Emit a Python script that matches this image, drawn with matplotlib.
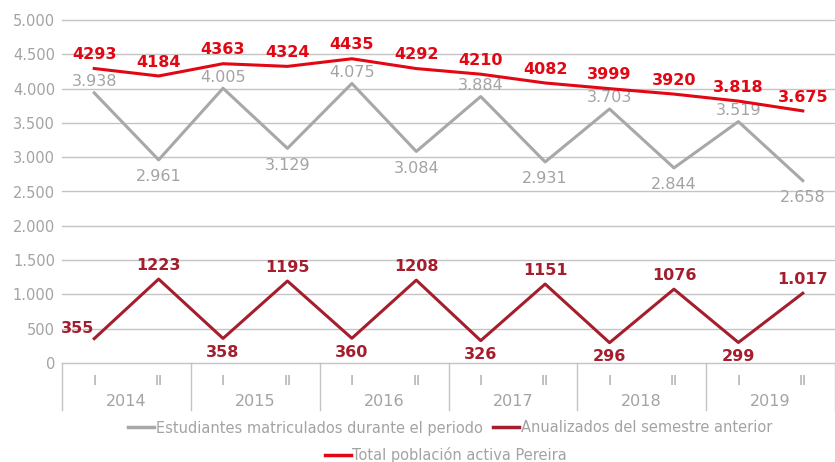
import numpy as np
import matplotlib
matplotlib.use("Agg")
import matplotlib.pyplot as plt
import matplotlib.transforms as mtransforms
from matplotlib.lines import Line2D

# data
years = ["2014", "2015", "2016", "2017", "2018", "2019"]
semestres = ["I", "II"]
matriculados = [3938, 2961, 4005, 3129, 4075, 3084, 3884, 2931, 3703, 2844, 3519, 2658]
anualizados = [355, 1223, 358, 1195, 360, 1208, 326, 1151, 296, 1076, 299, 1017]
poblacion = [4293, 4184, 4363, 4324, 4435, 4292, 4210, 4082, 3999, 3920, 3818, 3675]
yticks = [0, 500, 1000, 1500, 2000, 2500, 3000, 3500, 4000, 4500, 5000]

GRAY = "#a8a8a8"
TXT = "#a3a3a3"
RED = "#e30613"
DRED = "#a51e2d"

plt.rcParams["font.family"] = ["DejaVu Sans"]


def miles(v, dot=True):
    s = f"{v:,.0f}"
    return s.replace(",", ".") if dot else s.replace(",", "")


fig = plt.figure(figsize=(8.35, 4.62), dpi=100)
ax = fig.add_axes([62 / 835, 99 / 462, 773 / 835, 343 / 462])
x = np.arange(len(matriculados))

ax.set_xlim(-0.5, len(x) - 0.5)
ax.set_ylim(0, 5000)
for s in ax.spines.values():
    s.set_visible(False)

for t in yticks:
    ax.axhline(t, color="#c4c4c4", lw=1, zorder=0, clip_on=False)
ax.set_yticks(yticks, [miles(t) for t in yticks])
ax.tick_params(axis="y", length=0, pad=5, labelsize=10.5, labelcolor=TXT)

ax.set_xticks(x, semestres * len(years))
ax.tick_params(axis="x", length=0, pad=8, labelsize=10, labelcolor=TXT)

trans = mtransforms.blended_transform_factory(ax.transData, ax.transAxes)
for k in range(0, len(x) + 1, 2):
    ax.plot([k - 0.5, k - 0.5], [0, -0.137], color="#c4c4c4", lw=1,
            transform=trans, clip_on=False)
for i, yr in enumerate(years):
    ax.text(2 * i + 0.5, -0.112, yr, transform=trans, ha="center", va="center",
            fontsize=11.5, color=TXT)

ax.plot(x, matriculados, color=GRAY, lw=2.2, clip_on=False, zorder=3)
ax.plot(x, anualizados, color=DRED, lw=2.2, clip_on=False, zorder=3)
ax.plot(x, poblacion, color=RED, lw=2.2, clip_on=False, zorder=4)

for i, v in enumerate(matriculados):
    off = 8 if i % 2 == 0 else -12
    ax.annotate(miles(v), (i, v), xytext=(0, off), textcoords="offset points",
                ha="center", va="center", fontsize=11.5, color=TXT)
for i, v in enumerate(poblacion):
    ax.annotate(miles(v, dot=i >= 10), (i, v), xytext=(0, 10),
                textcoords="offset points", ha="center", va="center",
                fontsize=11.5, fontweight="bold", color=RED)
for i, v in enumerate(anualizados):
    if i == 0:
        xy = (-12, 7)
    elif i % 2 == 0:
        xy = (0, -10)
    else:
        xy = (0, 10)
    ax.annotate(miles(v, dot=i == len(anualizados) - 1), (i, v), xytext=xy,
                textcoords="offset points", ha="center", va="center",
                fontsize=11.5, fontweight="bold", color=DRED)

h1 = [Line2D([], [], color=GRAY, lw=2.5), Line2D([], [], color=DRED, lw=2.5)]
leg1 = fig.legend(h1, ["Estudiantes matriculados durante el periodo",
                       "Anualizados del semestre anterior"],
                  loc="center", bbox_to_anchor=(0.539, 1 - 428 / 462), ncol=2,
                  frameon=False, fontsize=10.5, handlelength=1.8, handletextpad=0.1,
                  columnspacing=0.7, labelcolor=TXT)
leg2 = fig.legend([Line2D([], [], color=RED, lw=2.5)],
                  ["Total población activa Pereira"],
                  loc="center", bbox_to_anchor=(0.534, 1 - 455 / 462),
                  frameon=False, fontsize=10.5, handlelength=1.8, handletextpad=0.1,
                  labelcolor=TXT)

fig.savefig("out.png", dpi=100, facecolor="white")
